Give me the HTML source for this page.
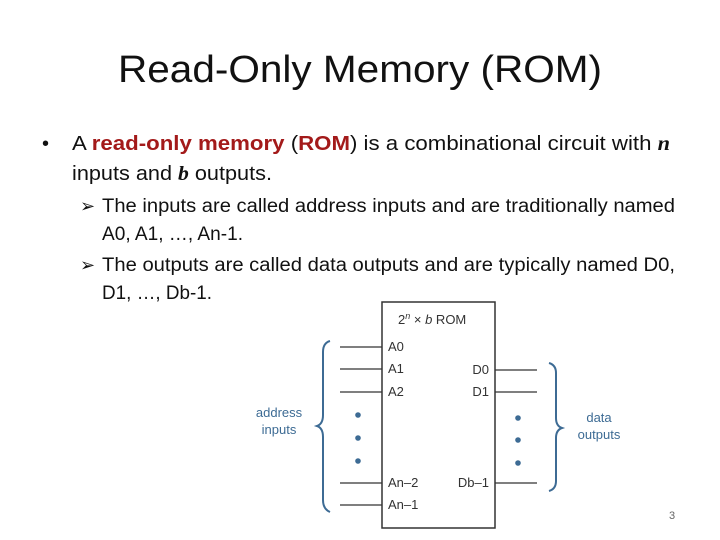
<!DOCTYPE html>
<html><head><meta charset="utf-8"><style>
html,body{margin:0;padding:0;background:#fff;}
svg{display:block;}
</style></head><body>
<svg width="720" height="540" viewBox="0 0 720 540" xmlns="http://www.w3.org/2000/svg" font-family="Liberation Sans, sans-serif">
<rect width="720" height="540" fill="#fff"/>
<text x="118" y="82" font-size="38" textLength="484" lengthAdjust="spacingAndGlyphs" fill="#111">Read-Only Memory  (ROM)</text>
<text x="42" y="150" font-size="20" fill="#111">•</text>
<text x="72" y="150" font-size="20" textLength="598" lengthAdjust="spacingAndGlyphs" fill="#111">A <tspan fill="#a31a1a" font-weight="bold">read-only memory</tspan> (<tspan fill="#a31a1a" font-weight="bold">ROM</tspan>) is a combinational circuit with <tspan font-family="Liberation Serif, serif" font-style="italic" font-weight="bold">n</tspan></text>
<text x="72" y="180" font-size="20" textLength="200" lengthAdjust="spacingAndGlyphs" fill="#111">inputs and <tspan font-family="Liberation Serif, serif" font-style="italic" font-weight="bold">b</tspan> outputs.</text>
<text x="80" y="212" font-size="18" fill="#111">➢</text>
<text x="102" y="212" font-size="19" textLength="573" lengthAdjust="spacingAndGlyphs" fill="#111">The inputs are called address inputs and are traditionally named</text>
<text x="102" y="240" font-size="19" textLength="141" lengthAdjust="spacingAndGlyphs" fill="#111">A0, A1, …, An-1.</text>
<text x="80" y="271" font-size="18" fill="#111">➢</text>
<text x="102" y="271" font-size="19" textLength="573" lengthAdjust="spacingAndGlyphs" fill="#111">The outputs are called data outputs and are typically named D0,</text>
<text x="102" y="299" font-size="19" textLength="110" lengthAdjust="spacingAndGlyphs" fill="#111">D1, …, Db-1.</text>

<rect x="382" y="302" width="113" height="226" fill="#fff" stroke="#333" stroke-width="1.5"/>
<text x="398" y="324" font-size="13" fill="#333">2<tspan font-size="9" dy="-5" font-style="italic">n</tspan><tspan dy="5"> × </tspan><tspan font-style="italic">b</tspan> ROM</text>
<g stroke="#333" stroke-width="1.3">
<line x1="340" y1="347" x2="382" y2="347"/>
<line x1="340" y1="369" x2="382" y2="369"/>
<line x1="340" y1="392" x2="382" y2="392"/>
<line x1="340" y1="483" x2="382" y2="483"/>
<line x1="340" y1="505" x2="382" y2="505"/>
<line x1="495" y1="370" x2="537" y2="370"/>
<line x1="495" y1="392" x2="537" y2="392"/>
<line x1="495" y1="483" x2="537" y2="483"/>
</g>
<g font-size="13" fill="#333">
<text x="388" y="351">A0</text>
<text x="388" y="373">A1</text>
<text x="388" y="396">A2</text>
<text x="388" y="487">An–2</text>
<text x="388" y="509">An–1</text>
<text x="489" y="374" text-anchor="end">D0</text>
<text x="489" y="396" text-anchor="end">D1</text>
<text x="489" y="487" text-anchor="end">Db–1</text>
</g>
<g fill="#3d6b94">
<circle cx="358" cy="415" r="2.8"/><circle cx="358" cy="438" r="2.8"/><circle cx="358" cy="461" r="2.8"/>
<circle cx="518" cy="418" r="2.8"/><circle cx="518" cy="440" r="2.8"/><circle cx="518" cy="463" r="2.8"/>
</g>
<g fill="none" stroke="#3d6b94" stroke-width="2">
<path d="M330 341 Q323 343 323 352 L323 415 Q323 424 317 426 Q323 428 323 437 L323 500 Q323 509 330 512"/>
<path d="M549 363 Q556 365 556 373 L556 418 Q556 426 562 428 Q556 430 556 438 L556 481 Q556 489 549 491"/>
</g>
<g font-size="13" fill="#3d6b94" text-anchor="middle">
<text x="279" y="417">address</text>
<text x="279" y="434">inputs</text>
<text x="599" y="422">data</text>
<text x="599" y="439">outputs</text>
</g>
<text x="672" y="519" font-size="11" fill="#666" text-anchor="middle">3</text>
</svg>
</body></html>
